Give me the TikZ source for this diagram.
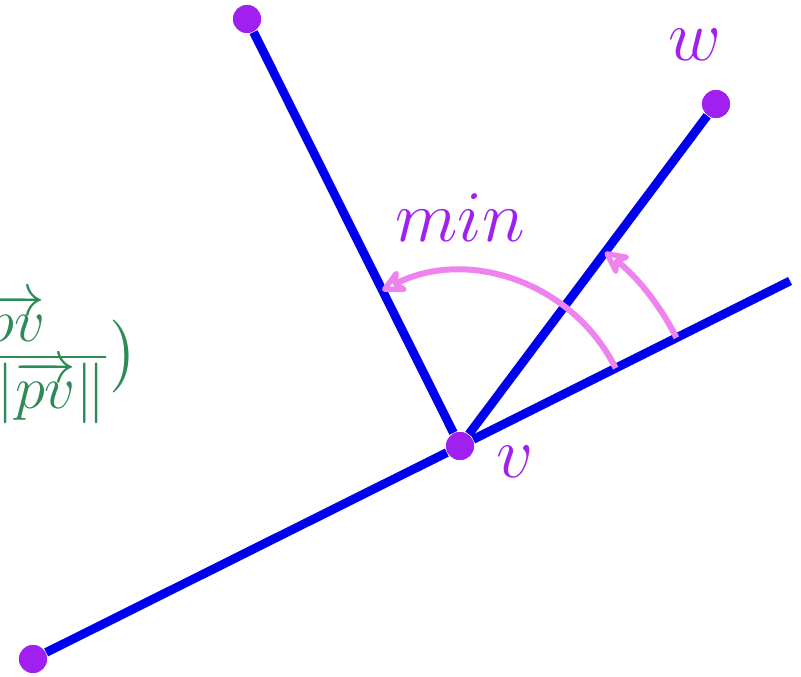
\documentclass[tikz,border=0pt]{standalone}
\usepackage{amsmath,amssymb}
\usepackage{xcolor}
\usepackage{tikz}
\usetikzlibrary{arrows.meta,calc}
\definecolor{ptpurple}{HTML}{A020F0}
\definecolor{arcpink}{HTML}{EE82EE}
\definecolor{edgeblue}{HTML}{0000F0}
\definecolor{fgreen}{HTML}{2E8B57}

\begin{document}
\begin{tikzpicture}[
          every node/.style={font=\huge},
          dot/.style={circle,fill=ptpurple,inner sep=0pt,minimum size=0.28cm},
          edge/.style={edgeblue,line width=0.088cm},
          sweep/.style={arcpink,line width=0.06cm,
                        -{Stealth[open,round,length=0.3cm,width=0.3cm,inset=0.09cm]}},
          lbl/.style={ptpurple,inner sep=0pt},
      ]
        \useasboundingbox (0,0) rectangle (8.01,6.76);
        \clip (0,0) rectangle (8.01,6.76);

        % points of the figure
        \node[dot] (v) at (4.60,2.30) {};
        \node[dot] (a) at (2.47,6.57) {};
        \node[dot] (w) at (7.16,5.72) {};
        \node[dot] (b) at (0.33,0.17) {};
        \coordinate (c) at (7.90,3.95);

        \draw[edge] (b) -- (v);
        \draw[edge] (v) -- (c);
        \draw[edge] (v) -- (a);
        \draw[edge] (v) -- (w);

        % redraw the dots on top
        \node[dot] at (v) {};
        \node[dot] at (a) {};
        \node[dot] at (w) {};
        \node[dot] at (b) {};

        % angles measured from the base line
        \draw[sweep] ($(v)+(26.57:1.74)$) arc[start angle=26.57,end angle=116.57,radius=1.74];
        \draw[sweep] ($(v)+(26.57:2.42)$) arc[start angle=26.57,end angle=53.2,radius=2.42];

        \node[lbl] (vlbl) at (5.15,2.14) {$v$};
        \node[lbl] (wlbl) at (6.95,6.31) {$w$};
        \node[lbl] (minlbl) at (4.60,4.58) {$min$};

        % formula, cut by the left edge
        \node[fgreen,font=\LARGE,inner sep=0pt,anchor=base east] (formula) at (1.39,3.04)
          {$\bigl(\frac{\textstyle\overrightarrow{pu}\cdot\overrightarrow{pv}}{\textstyle\|\overrightarrow{pu}\|\cdot\|\overrightarrow{pv}\|}\bigr)$};
      \end{tikzpicture}
\end{document}
